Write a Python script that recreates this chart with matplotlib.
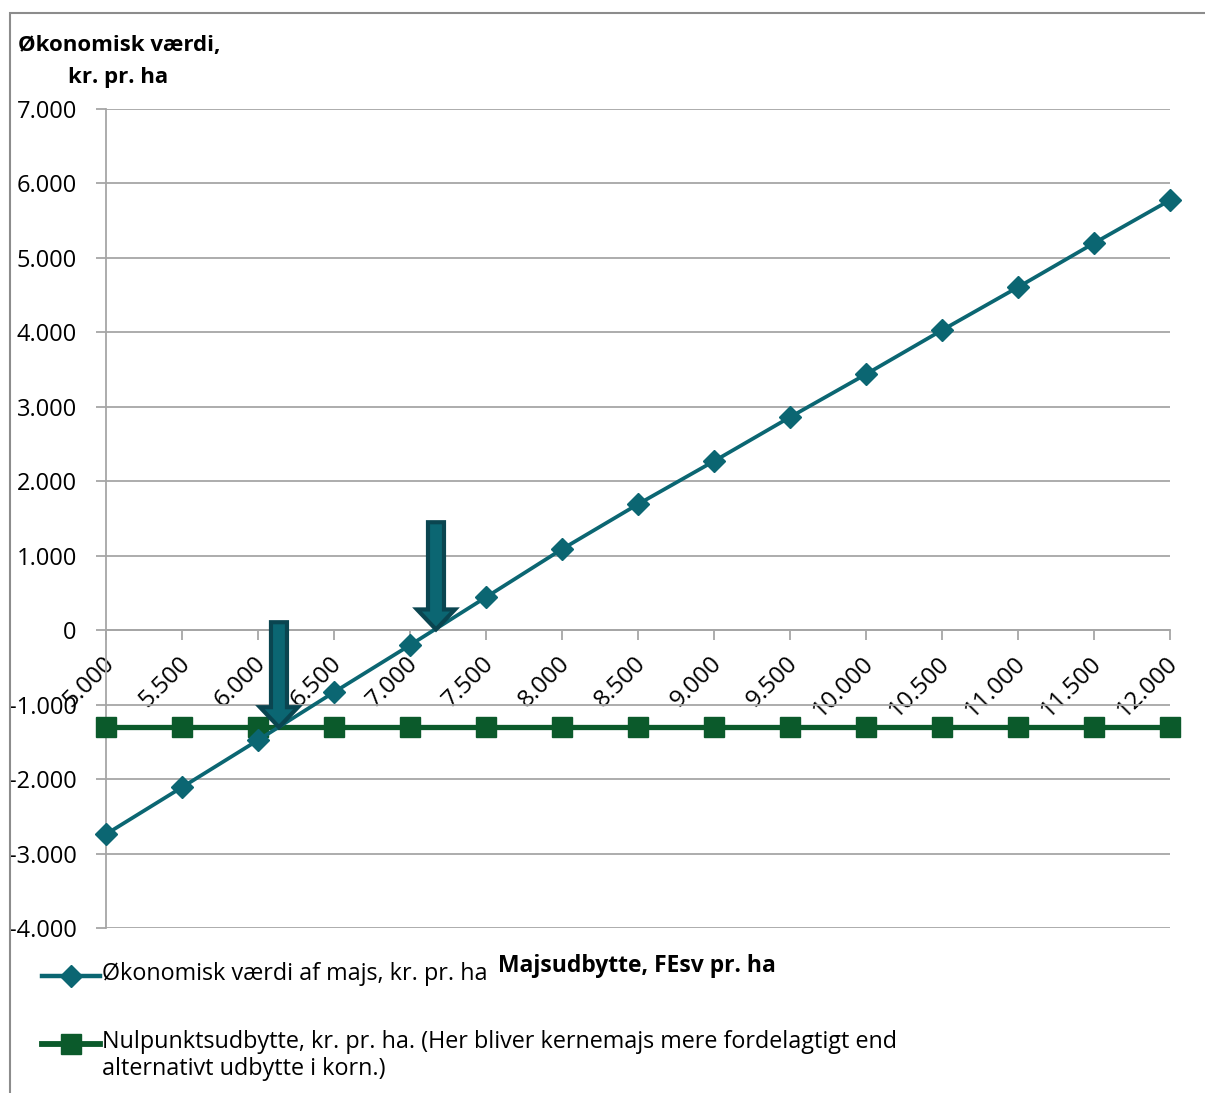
import matplotlib
matplotlib.use("Agg")
import matplotlib.pyplot as plt
import matplotlib.transforms as mtrans
from matplotlib.patches import FancyArrow, Rectangle
from matplotlib.lines import Line2D
from matplotlib.ticker import FuncFormatter, FixedLocator

plt.rcParams['font.family'] = ['Open Sans', 'DejaVu Sans']

# ---------------- data ----------------
yield_fe = [5000, 5500, 6000, 6500, 7000, 7500, 8000, 8500, 9000,
            9500, 10000, 10500, 11000, 11500, 12000]
value_maize = [-2740, -2110, -1477, -833, -201, 443, 1088, 1692, 2270,
               2861, 3438, 4029, 4607, 5198, 5776]
break_even = [-1303] * 15
y_ticks = [-4000, -3000, -2000, -1000, 0, 1000, 2000, 3000, 4000, 5000, 6000, 7000]

label_maize = "Økonomisk værdi af majs, kr. pr. ha"
label_break = "Nulpunktsudbytte, kr. pr. ha. (Her bliver kernemajs mere fordelagtigt end\nalternativt udbytte i korn.)"
y_title = "Økonomisk værdi,"
y_title2 = "kr. pr. ha"
x_title = "Majsudbytte, FEsv pr. ha"

# annotation arrows (x, top, tip)
arrow_x = [7171, 6138]
arrow_top = [1450, 107]
arrow_tip = [10, -1303]

TEAL = "#0b6672"
TEAL_DARK = "#0a4550"
GREEN = "#0b5a2b"
GRID = "#a6a6a6"

W, H = 1205, 1093
fig = plt.figure(figsize=(W / 100, H / 100), dpi=100)
ax = fig.add_axes([106 / W, 1 - 928 / H, (1170 - 106) / W, (928 - 109) / H])

ax.set_xlim(yield_fe[0], yield_fe[-1])
ax.set_ylim(y_ticks[0], y_ticks[-1])

ax.yaxis.set_major_locator(FixedLocator(y_ticks))
ax.xaxis.set_major_locator(FixedLocator(yield_fe))
fmt = FuncFormatter(lambda v, p: f"{v:,.0f}".replace(",", "."))
ax.yaxis.set_major_formatter(fmt)
ax.xaxis.set_major_formatter(fmt)

ax.grid(axis='y', color=GRID, linewidth=1.3)
ax.set_axisbelow(True)

for s in ['top', 'right']:
    ax.spines[s].set_visible(False)
ax.spines['bottom'].set_position(('data', 0))
ax.spines['bottom'].set_color(GRID)
ax.spines['bottom'].set_linewidth(1.3)
ax.spines['left'].set_color(GRID)
ax.spines['left'].set_linewidth(1.3)

ax.tick_params(axis='both', direction='out', length=7, width=1.3, color=GRID,
               labelsize=17, labelcolor='black')
ax.tick_params(axis='y', pad=14)
ax.tick_params(axis='x', pad=4)
offset = mtrans.ScaledTranslation(-4 / 100, -6 / 100, fig.dpi_scale_trans)
for lab in ax.get_xticklabels():
    lab.set_rotation(45)
    lab.set_ha('right')
    lab.set_va('top')
    lab.set_rotation_mode('anchor')
    lab.set_fontsize(17.5)
    lab.set_transform(lab.get_transform() + offset)

ax.plot(yield_fe, break_even, color=GREEN, linewidth=3.8, marker='s',
        markersize=15, markerfacecolor=GREEN, markeredgecolor=GREEN, zorder=3,
        clip_on=False)
ax.plot(yield_fe, value_maize, color=TEAL, linewidth=2.7, marker='D',
        markersize=11.5, markerfacecolor=TEAL, markeredgecolor=TEAL, zorder=4,
        clip_on=False)

# arrows: width in x data units, length in y data units
xpp = 500 / 76.0
ypp = 1000 / 74.45
for xa, yt, yp in zip(arrow_x, arrow_top, arrow_tip):
    arr = FancyArrow(xa, yt, 0, yp - yt, width=16 * xpp, head_width=38 * xpp,
                     head_length=20 * ypp, length_includes_head=True,
                     facecolor=TEAL, edgecolor=TEAL_DARK, linewidth=3, zorder=5)
    ax.add_patch(arr)

# titles
fig.text(18 / W, 1 - 45 / H, y_title, fontsize=16, fontweight='bold', va='center', ha='left')
fig.text(68 / W, 1 - 77 / H, y_title2, fontsize=16, fontweight='bold', va='center', ha='left')
fig.text(637 / W, 1 - 966 / H, x_title, fontsize=16.5, fontweight='bold', va='center', ha='center')

# legend (manual)
def legend_entry(y, color, marker, ms, lw, text):
    fig.lines.append(Line2D([42 / W, 100 / W], [1 - y / H, 1 - y / H], transform=fig.transFigure,
                            color=color, linewidth=lw))
    fig.lines.append(Line2D([71 / W], [1 - y / H], transform=fig.transFigure, color=color,
                            marker=marker, markersize=ms, markerfacecolor=color,
                            markeredgecolor=color, linestyle='none'))
    fig.text(102 / W, 1 - (y - 14) / H, text, fontsize=16.8, va='top', ha='left',
             linespacing=1.15)

legend_entry(976, TEAL, 'D', 11, 3.2, label_maize)
legend_entry(1044, GREEN, 's', 15, 4.2, label_break)

# outer border
fig.patches.append(Rectangle((10 / W, -0.1), 1.2, 1 - 13 / H + 0.1, transform=fig.transFigure,
                             fill=False, edgecolor='#8c8c8c', linewidth=1.5))

fig.savefig("out.png", dpi=100)
